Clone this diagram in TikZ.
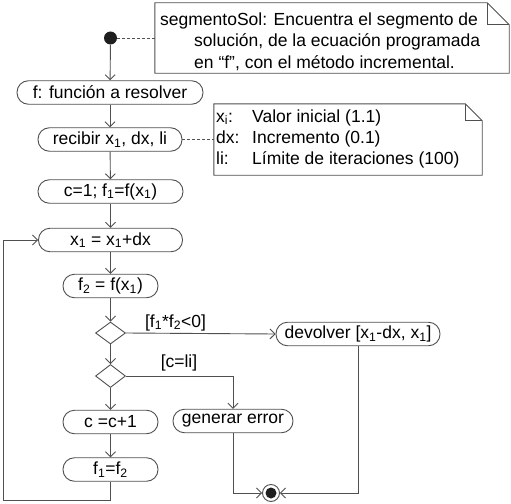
\documentclass[tikz,border=0pt]{standalone}
\usepackage{fontspec}
\setmainfont{Liberation Sans}
\usetikzlibrary{arrows.meta,shapes.geometric,calc}
\definecolor{ln}{HTML}{505050}
\begin{document}
\begin{tikzpicture}[x=1pt,y=-1pt,
  font=\fontsize{17.5}{21}\selectfont,
  act/.style={draw=ln, line width=0.9pt, rounded corners=11.5pt, inner sep=0pt, minimum height=23.5pt},
  dec/.style={draw=ln, line width=0.9pt, diamond, inner sep=0pt, minimum width=30pt, minimum height=22pt},
  flow/.style={draw=ln, line width=0.9pt, -{Straight Barb[length=5pt,width=10pt]}},
  plain/.style={draw=ln, line width=0.9pt},
  link/.style={draw=ln, line width=0.9pt, dash pattern=on 3pt off 2pt},
  notebox/.style={inner sep=0pt},
  notetext/.style={inner sep=0pt, anchor=base west},
  lbl/.style={inner sep=0pt}
]
\useasboundingbox (0,0) rectangle (511,503);

% notes
\node[notebox, minimum width=354pt, minimum height=70pt] (n1) at (332,38) {};
\draw[draw=ln, line width=0.9pt, fill=white] (n1.north west) -- ($(n1.north east)+(-22,0)$) -- ($(n1.north east)+(0,22)$) -- (n1.south east) -- (n1.south west) -- cycle;
\draw[draw=ln, line width=0.9pt] ($(n1.north east)+(-22,0)$) -- ($(n1.north east)+(-22,22)$) -- ($(n1.north east)+(0,22)$);
\node[notetext] (n1a) at (160,25.5) {segmentoSol: Encuentra el segmento de};
\node[notetext] (n1b) at (194,47) {solución, de la ecuación programada};
\node[notetext] (n1c) at (194,68.5) {en “f”, con el método incremental.};

\node[notebox, minimum width=268pt, minimum height=71pt] (n2) at (348,139.5) {};
\draw[draw=ln, line width=0.9pt, fill=white] (n2.north west) -- ($(n2.north east)+(-17,0)$) -- ($(n2.north east)+(0,17)$) -- (n2.south east) -- (n2.south west) -- cycle;
\draw[draw=ln, line width=0.9pt] ($(n2.north east)+(-17,0)$) -- ($(n2.north east)+(-17,17)$) -- ($(n2.north east)+(0,17)$);
\node[notetext] (n2a) at (216,122) {x\textsubscript{i}:};
\node[notetext] (n2b) at (252,122) {Valor inicial (1.1)};
\node[notetext] (n2c) at (216,143) {dx:};
\node[notetext] (n2d) at (252,143) {Incremento (0.1)};
\node[notetext] (n2e) at (216,164) {li:};
\node[notetext] (n2f) at (252,164) {Límite de iteraciones (100)};

% start / end
\node[circle, fill=black!88, minimum size=13pt, inner sep=0pt] (start) at (110.5,38) {};
\node[circle, draw=ln, fill=white, line width=0.9pt, minimum size=17pt, inner sep=0pt] (end) at (271,493) {};
\node[circle, fill=black!88, minimum size=11pt, inner sep=0pt] (endin) at (end.center) {};

% activities
\node[act, minimum width=186pt] (fn) at (110,92.5) {f: función a resolver};
\node[act, minimum width=144pt] (rec) at (110,139.5) {recibir x\textsubscript{1}, dx, li};
\node[act, minimum width=145pt] (c1) at (110.5,191.5) {c=1; f\textsubscript{1}=f(x\textsubscript{1})};
\node[act, minimum width=144pt] (x1) at (110.5,240) {x\textsubscript{1} = x\textsubscript{1}+dx};
\node[act, minimum width=95pt] (f2) at (110.5,286) {f\textsubscript{2} = f(x\textsubscript{1})};
\node[dec] (d1) at (110.5,333) {};
\node[act, minimum width=164pt] (dev) at (358,334) {devolver [x\textsubscript{1}-dx, x\textsubscript{1}]};
\node[dec, minimum height=23pt] (d2) at (110.5,376) {};
\node[act, minimum width=120pt] (gen) at (233,421) {generar error};
\node[act, minimum width=95pt] (cc) at (110.5,422) {c =c+1};
\node[act, minimum width=95pt] (ff) at (110.5,469.5) {f\textsubscript{1}=f\textsubscript{2}};

% labels
\node[lbl] (l1) at (175.5,322.5) {[f\textsubscript{1}*f\textsubscript{2}<0]};
\node[lbl] (l2) at (179,363) {[c=li]};

% links
\draw[link] (start.east) -- (n1.west);
\draw[link] (rec.east) -- (n2.west);

% flows
\draw[flow] (start) -- (fn);
\draw[flow] (fn) -- (rec);
\draw[flow] (rec) -- (c1);
\draw[flow] (c1) -- (x1);
\draw[flow] (x1) -- (f2);
\draw[flow] (f2) -- (d1);
\draw[flow] (d1.east) -- (dev.west);
\draw[flow] (d1.south) -- (d2.north);
\draw[flow] (d2.east) -| (gen.north);
\draw[flow] (d2.south) -- (cc.north);
\draw[flow] (cc) -- (ff);
\draw[flow] (gen.south) |- (end.west);
\draw[flow] (dev.south) |- (end.east);
\coordinate (lb) at (3,500);
\coordinate (lt) at (3,240);
\draw[flow] (ff.south) |- (lb) -- (lt) -- (x1.west);
\end{tikzpicture}
\end{document}
